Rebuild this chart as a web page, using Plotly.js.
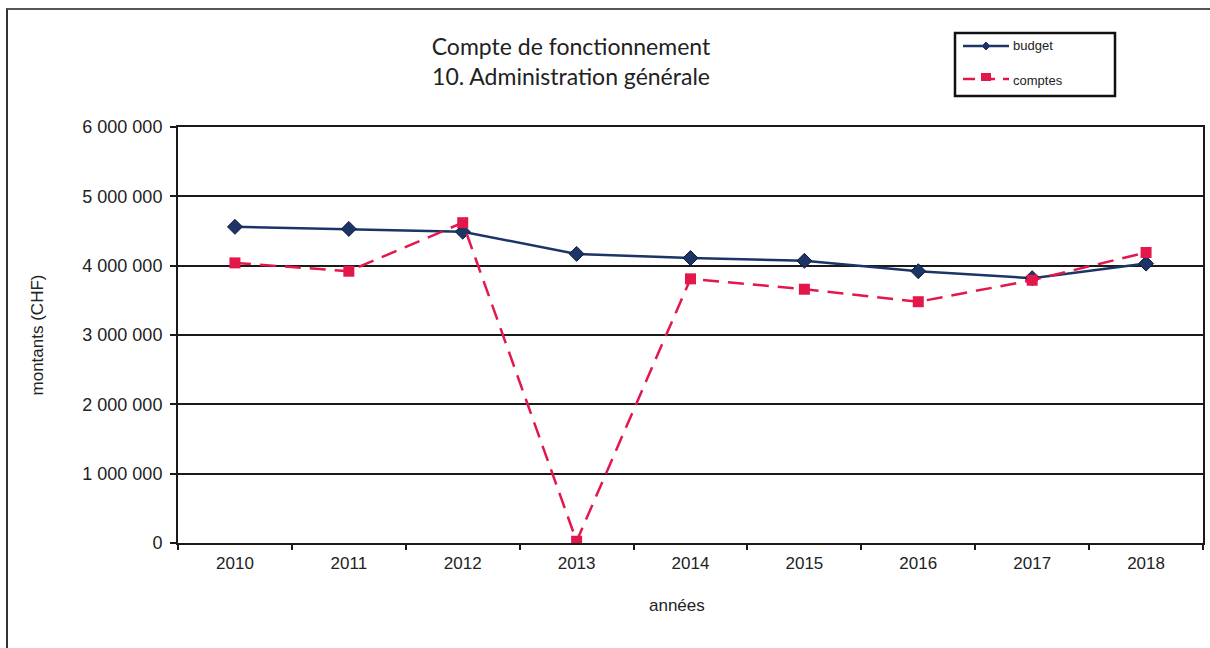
<!DOCTYPE html>
<html>
<head>
<meta charset="utf-8">
<script src="https://cdn.plot.ly/plotly-3.0.1.min.js"></script>
<style>
  html, body { margin: 0; padding: 0; background: #fff; }
  #wrap { position: relative; width: 1210px; height: 648px; overflow: hidden; }
  #chart { position: absolute; left: 0; top: 0; width: 1210px; height: 648px; }
  #frame { position: absolute; left: 6px; top: 8px; width: 1260px; height: 700px;
           border-left: 2px solid #333; border-top: 2px solid #555; pointer-events: none; }
</style>
</head>
<body>
<div id="wrap">
  <div id="chart"></div>
  <div id="frame"></div>
</div>
<script>
// Fonctionnement, 10. Administration générale (CHF)
const years = ['2010', '2011', '2012', '2013', '2014', '2015', '2016', '2017', '2018'];
const budget = [4560000, 4530000, 4490000, 4170000, 4110000, 4070000, 3920000, 3820000, 4030000];
const comptes = [4040000, 3920000, 4620000, 25000, 3810000, 3660000, 3480000, 3790000, 4190000];
const yTickVals = [0, 1000000, 2000000, 3000000, 4000000, 5000000, 6000000];
const yTickText = ['0', '1 000 000', '2 000 000', '3 000 000', '4 000 000', '5 000 000', '6 000 000'];
const seriesNames = ['budget', 'comptes'];

const W = 1210, H = 648;
const M = { l: 178, r: 7, t: 127, b: 105 };
const PW = W - M.l - M.r, PH = H - M.t - M.b;
// pixel -> paper coordinates (for the legend box drawn by hand)
const px = x => (x - M.l) / PW;
const py = y => (H - M.b - y) / PH;

const NAVY = '#1c3566';
const RED = '#e3174a';
const INK = '#1a1a1a';

const traces = [
  {
    x: years, y: budget, name: seriesNames[0], type: 'scatter', mode: 'lines+markers',
    line: { color: NAVY, width: 2.5 },
    marker: { symbol: 'diamond', size: 11.5, color: NAVY, line: { color: '#0e1d3a', width: 1 } },
    showlegend: false
  },
  {
    x: years, y: comptes, name: seriesNames[1], type: 'scatter', mode: 'lines+markers',
    line: { color: RED, width: 2.5, dash: '16px,9px' },
    marker: { symbol: 'square', size: 11, color: RED },
    showlegend: false
  }
];

// hand-drawn legend
const lx0 = 963, lx1 = 1009, ly1 = 46, ly2 = 79, mx = 986;
const shapes = [
  { type: 'rect', xref: 'paper', yref: 'paper', x0: px(955), x1: px(1115), y0: py(96), y1: py(33),
    line: { color: '#111', width: 2.5 }, fillcolor: 'rgba(0,0,0,0)' },
  { type: 'line', xref: 'paper', yref: 'paper', x0: px(lx0), x1: px(lx1), y0: py(ly1), y1: py(ly1),
    line: { color: NAVY, width: 2.5 } },
  { type: 'path', xref: 'paper', yref: 'paper',
    path: `M ${px(mx - 4)} ${py(ly1)} L ${px(mx)} ${py(ly1 - 4)} L ${px(mx + 4)} ${py(ly1)} L ${px(mx)} ${py(ly1 + 4)} Z`,
    fillcolor: NAVY, line: { color: NAVY, width: 1 } },
  { type: 'line', xref: 'paper', yref: 'paper', x0: px(lx0), x1: px(lx1), y0: py(ly2), y1: py(ly2),
    line: { color: RED, width: 2.5, dash: '12px,8px' } },
  { type: 'rect', xref: 'paper', yref: 'paper', x0: px(mx - 5), x1: px(mx + 5), y0: py(ly2 + 2), y1: py(ly2 - 6),
    fillcolor: RED, line: { color: RED, width: 0 } }
];

const annotations = [
  { text: seriesNames[0], xref: 'paper', yref: 'paper', x: px(1011), y: py(ly1 - 1), xanchor: 'left', yanchor: 'middle',
    showarrow: false, font: { family: 'Liberation Sans, Arial, sans-serif', size: 13, color: '#222' } },
  { text: seriesNames[1], xref: 'paper', yref: 'paper', x: px(1011), y: py(ly2 + 1), xanchor: 'left', yanchor: 'middle',
    showarrow: false, font: { family: 'Liberation Sans, Arial, sans-serif', size: 13, color: '#222' } },
  { text: 'années', xref: 'paper', yref: 'paper', x: px(677), y: py(605), xanchor: 'center', yanchor: 'middle',
    showarrow: false, font: { family: 'Liberation Sans, Arial, sans-serif', size: 17, color: '#222' } }
];

const layout = {
  width: W, height: H,
  margin: M,
  paper_bgcolor: '#fff', plot_bgcolor: '#fff',
  font: { family: 'Liberation Sans, Arial, sans-serif', size: 17, color: '#222' },
  title: {
    text: 'Compte de fonctionnement<br>10. Administration générale',
    font: { family: 'Lato, sans-serif', size: 23, color: '#222' },
    x: 571 / W, xanchor: 'center', xref: 'container',
    y: 1 - 55 / H, yanchor: 'top', yref: 'container', pad: { t: 0, b: 0 }
  },
  xaxis: {
    type: 'category', range: [-0.5, 8.5],
    showline: true, linecolor: INK, linewidth: 2, mirror: true,
    ticks: 'outside', tickson: 'boundaries', ticklen: 5, tickwidth: 2, tickcolor: INK,
    showgrid: false, zeroline: false,
    tickfont: { size: 17, color: '#222' }, ticklabelstandoff: 4
  },
  yaxis: {
    range: [0, 6000000], tickvals: yTickVals, ticktext: yTickText,
    showline: true, linecolor: INK, linewidth: 2, mirror: true,
    ticks: 'outside', ticklen: 6, tickwidth: 2, tickcolor: INK,
    showgrid: true, gridcolor: INK, gridwidth: 2, zeroline: false,
    tickfont: { size: 18, color: '#222' }, ticklabelstandoff: 4,
    title: { text: 'montants (CHF)', font: { size: 17, color: '#222' }, standoff: 34 }
  },
  showlegend: false,
  shapes: shapes,
  annotations: annotations
};

Plotly.newPlot('chart', traces, layout, { displayModeBar: false, staticPlot: true });
</script>
</body>
</html>
